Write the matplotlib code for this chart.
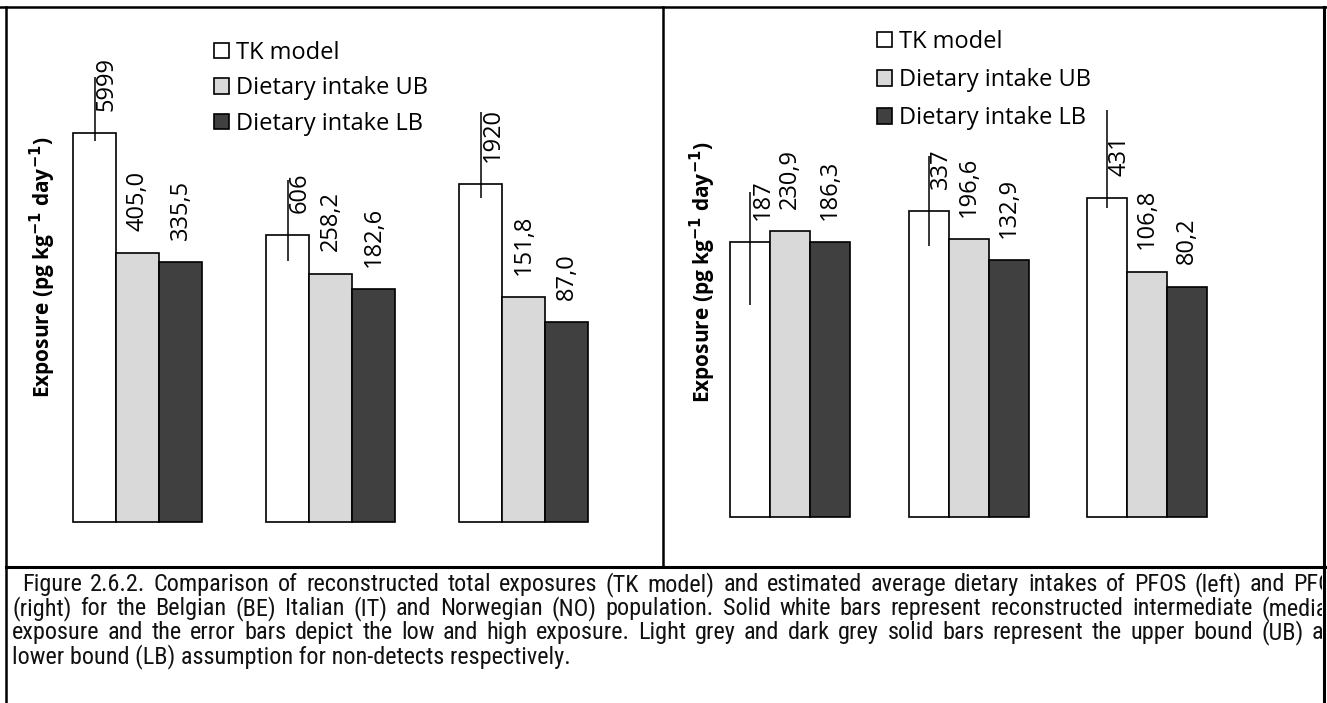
import matplotlib as mpl
import numpy as np
from matplotlib import pyplot as plt
from matplotlib import font_manager as fm
from matplotlib.lines import Line2D
from matplotlib.transforms import Bbox, TransformedBbox

mpl.rcParams['font.family'] = ['Open Sans', 'DejaVu Sans']

W, H = 1327, 703

populations = ['BE', 'IT', 'NO']
series_names = ['TK model', 'Dietary intake UB', 'Dietary intake LB']

# PFOS (left panel)
pfos_tk = [5999, 606, 1920]
pfos_tk_low = [5000, 345, 1410]
pfos_tk_high = [21000, 2090, 9550]
pfos_ub = [405.0, 258.2, 151.8]
pfos_lb = [335.5, 182.6, 87.0]
pfos_labels = [['5999', '606', '1920'],
               ['405,0', '258,2', '151,8'],
               ['335,5', '182,6', '87,0']]

# PFOA (right panel)
pfoa_tk = [187, 337, 431]
pfoa_tk_low = [57, 175, 358]
pfoa_tk_high = [485, 958, 2300]
pfoa_ub = [230.9, 196.6, 106.8]
pfoa_lb = [186.3, 132.9, 80.2]
pfoa_labels = [['187', '337', '431'],
               ['230,9', '196,6', '106,8'],
               ['186,3', '132,9', '80,2']]

colors = ['white', '#d9d9d9', '#404040']

caption_lines = [
    'Figure 2.6.2. Comparison of reconstructed total exposures (TK model) and estimated average dietary intakes of PFOS (left) and PFOA',
    '(right) for the Belgian (BE) Italian (IT) and Norwegian (NO) population. Solid white bars represent reconstructed intermediate (median)',
    'exposure and the error bars depict the low and high exposure. Light grey and dark grey solid bars represent the upper bound (UB) and',
    'lower bound (LB) assumption for non-detects respectively.',
]


def narrow_font():
    # the caption is set in a narrow Arial-like face; use whatever narrow face is installed
    wanted = ['liberation sans narrow', 'arial narrow', 'roboto condensed',
              'noto sans condensed', 'open sans condensed', 'dejavu sans condensed']
    found = {}
    for f in fm.fontManager.ttflist:
        key = (f.name + ' ' + str(f.stretch)).lower()
        fname = f.fname.lower().replace('-', '').replace('_', '')
        if f.style != 'normal' or f.weight not in (400, 'normal', 'regular'):
            continue
        for w in wanted:
            if w in key or w.replace(' ', '') in fname:
                found.setdefault(w, f.fname)
    for w in wanted:
        if w in found:
            return fm.FontProperties(fname=found[w]), True
    return fm.FontProperties(family='Liberation Sans'), False


def px_axes(fig, x0, y0, x1, y1):
    # pixel box measured from the top-left corner
    return fig.add_axes([x0 / W, 1 - y1 / H, (x1 - x0) / W, (y1 - y0) / H])


def draw_panel(ax, tk, low, high, ub, lb, labels, width, xlim, ylim, legend_xy, legend_gap):
    x = np.arange(len(populations))
    base = 1.0
    ax.set_yscale('log')
    ax.set_xlim(*xlim)
    ax.set_ylim(*ylim)
    offsets = [-width, 0, width]
    handles = []
    for i, vals in enumerate([tk, ub, lb]):
        vals = np.array(vals, dtype=float)
        b = ax.bar(x + offsets[i], vals - base, bottom=base, width=width,
                   color=colors[i], edgecolor='black', linewidth=1.2, zorder=2)
        handles.append(b)
    tk = np.array(tk, dtype=float)
    ax.errorbar(x - width, tk, yerr=[tk - np.array(low), np.array(high) - tk],
                fmt='none', ecolor='black', elinewidth=1.1, capsize=0, zorder=3)
    for i, vals in enumerate([tk, ub, lb]):
        dx = 9 if i == 0 else 0
        for j, v in enumerate(vals):
            ax.annotate(labels[i][j], (x[j] + offsets[i], v), xytext=(dx, 16),
                        textcoords='offset points', rotation=90,
                        ha='center', va='bottom', fontsize=17)
    ax.axis('off')
    ax.legend(handles, series_names, loc='upper left',
              bbox_to_anchor=(legend_xy[0] / W, 1 - legend_xy[1] / H),
              bbox_transform=ax.figure.transFigure, frameon=False,
              fontsize=17, handlelength=0.62, handleheight=0.62,
              handletextpad=0.3, labelspacing=legend_gap, borderpad=0,
              borderaxespad=0)


fig = plt.figure(figsize=(W / 100, H / 100), dpi=100)

ax1 = px_axes(fig, 6, 7, 663, 567)
draw_panel(ax1, pfos_tk, pfos_tk_low, pfos_tk_high, pfos_ub, pfos_lb, pfos_labels,
           43 / 193, ((6 - 137.5) / 193, (663 - 137.5) / 193),
           (10 ** (-(567 - 522) / 103), 10 ** ((522 - 7) / 103)),
           (214, 41), 0.48)

ax2 = px_axes(fig, 663, 7, 1324, 567)
draw_panel(ax2, pfoa_tk, pfoa_tk_low, pfoa_tk_high, pfoa_ub, pfoa_lb, pfoa_labels,
           40 / 178.5, ((663 - 790) / 178.5, (1324 - 790) / 178.5),
           (10 ** (-(567 - 517) / 121), 10 ** ((517 - 7) / 121)),
           (877, 30), 0.60)

ylabel = r'Exposure (pg kg$^{\mathbf{-1}}$ day$^{\mathbf{-1}}$)'
fig.text(43 / W, 1 - 267 / H, ylabel, rotation=90, ha='center', va='center',
         fontsize=15, fontweight='bold')
fig.text(703 / W, 1 - 272 / H, ylabel, rotation=90, ha='center', va='center',
         fontsize=15, fontweight='bold')

# table borders
for xs, ys, lw in [((0, W), (7, 7), 1.8), ((6, W), (567, 567), 2.2),
                   ((6, 6), (7, H), 1.8), ((663, 663), (7, 567), 1.8),
                   ((1324, 1324), (7, H), 2.2)]:
    fig.add_artist(Line2D([xx / W for xx in xs], [1 - yy / H for yy in ys],
                          color='black', linewidth=lw))

# caption, justified like the Word original; its right margin lies beyond the crop
cap_prop, is_narrow = narrow_font()
cap_size = 17.5 if is_narrow else 13.5
right_margin = 1347
clip = TransformedBbox(Bbox.from_extents(0, 0, 1322 / W, 1), fig.transFigure)
renderer = fig.canvas.get_renderer()
for k, line in enumerate(caption_lines):
    x0 = 22 if k == 0 else 12
    y = 1 - (591 + 24 * k) / H
    if k == len(caption_lines) - 1:
        fig.text(x0 / W, y, line, ha='left', va='baseline', fontproperties=cap_prop,
                 fontsize=cap_size, color='#111111')
        continue
    words = line.split(' ')
    texts = []
    for wd in words:
        t = fig.text(0, y, wd, ha='left', va='baseline', fontproperties=cap_prop,
                     fontsize=cap_size, color='#111111')
        t.set_clip_box(clip)
        t.set_clip_on(True)
        texts.append(t)
    widths = [t.get_window_extent(renderer).width for t in texts]
    gap = (right_margin - x0 - sum(widths)) / (len(words) - 1)
    xpos = x0
    for t, w in zip(texts, widths):
        t.set_x(xpos / W)
        xpos += w + gap

fig.savefig('out.png', dpi=100)
